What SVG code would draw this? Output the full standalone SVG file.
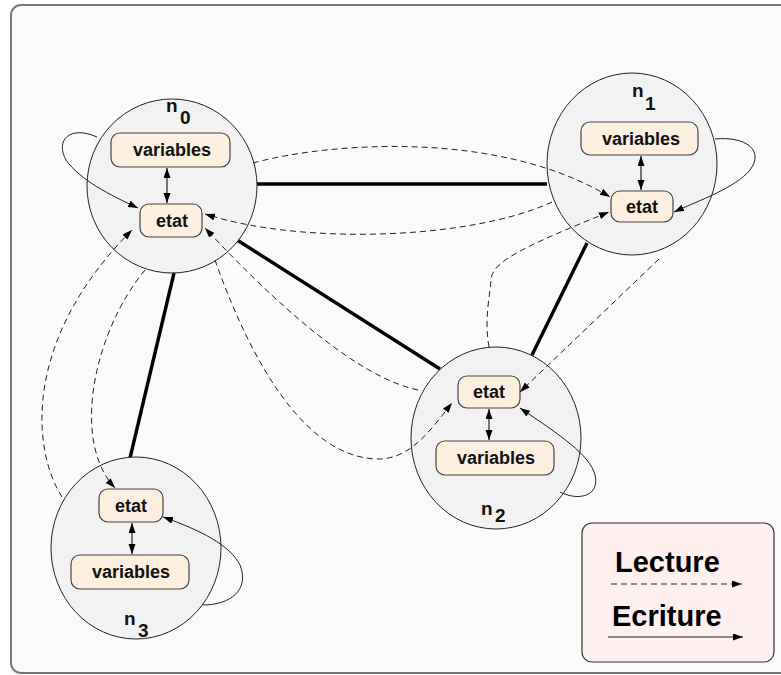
<svg xmlns="http://www.w3.org/2000/svg" width="781" height="675" viewBox="0 0 781 675">
<defs>
<marker id="ah" markerUnits="userSpaceOnUse" markerWidth="11" markerHeight="8" refX="10" refY="3.5" orient="auto-start-reverse"><path d="M0,0 L10,3.5 L0,7 z" fill="#000"/></marker>
</defs>
<style>
.node ellipse{fill:#f2f2f2;stroke:#222;stroke-width:1}
.box{fill:#fcefdf;stroke:#444;stroke-width:1.2}
.bt{font-family:"Liberation Sans",Arial,sans-serif;font-weight:bold;font-size:18px;fill:#111;text-anchor:middle}
.nl{font-family:"Liberation Sans",Arial,sans-serif;font-weight:bold;font-size:19px;fill:#111}
.thick{stroke:#000;stroke-width:3.4;fill:none}
.rd{stroke:#222;stroke-width:1;fill:none;stroke-dasharray:6,4;marker-end:url(#ah)}
.wr{stroke:#222;stroke-width:1;fill:none;marker-end:url(#ah)}
.dbl{stroke:#222;stroke-width:1.2;fill:none;marker-end:url(#ah);marker-start:url(#ah)}
.lg{font-family:"Liberation Sans",Arial,sans-serif;font-weight:bold;font-size:29px;fill:#000}
</style>
<rect x="11" y="5" width="790" height="668" rx="10" fill="#fafafa" stroke="#777" stroke-width="2"/>

<g id="edges-thick">
<line class="thick" x1="257" y1="184" x2="547" y2="184"/>
<line class="thick" x1="237" y1="240" x2="440" y2="369"/>
<line class="thick" x1="587" y1="243" x2="532" y2="355"/>
<line class="thick" x1="174" y1="273" x2="130" y2="458"/>
</g>

<g id="n0" class="node">
<ellipse cx="172" cy="186" rx="85" ry="87"/>
<text class="nl" x="166" y="112">n</text><text class="nl" x="180" y="124">0</text>
<rect class="box" x="111" y="133" width="119" height="34" rx="9"/>
<text class="bt" x="172" y="156">variables</text>
<rect class="box" x="140" y="204" width="62" height="33" rx="9"/>
<text class="bt" x="172" y="227">etat</text>
<line class="dbl" x1="167" y1="168" x2="167" y2="203"/>
</g>

<g id="n1" class="node">
<ellipse cx="632" cy="164" rx="85" ry="91"/>
<text class="nl" x="632" y="97">n</text><text class="nl" x="645" y="110">1</text>
<rect class="box" x="581" y="122" width="117" height="33" rx="9"/>
<text class="bt" x="641" y="145">variables</text>
<rect class="box" x="611" y="191" width="62" height="31" rx="9"/>
<text class="bt" x="642" y="213">etat</text>
<line class="dbl" x1="641" y1="156" x2="641" y2="190"/>
</g>

<g id="n2" class="node">
<ellipse cx="496" cy="438" rx="85" ry="91"/>
<text class="nl" x="481" y="515">n</text><text class="nl" x="495" y="522">2</text>
<rect class="box" x="458" y="376" width="62" height="32" rx="9"/>
<text class="bt" x="489" y="398">etat</text>
<rect class="box" x="436" y="441" width="118" height="34" rx="9"/>
<text class="bt" x="496" y="464">variables</text>
<line class="dbl" x1="489" y1="409" x2="489" y2="440"/>
</g>

<g id="n3" class="node">
<ellipse cx="136" cy="548" rx="85" ry="91"/>
<text class="nl" x="124" y="625">n</text><text class="nl" x="138" y="637">3</text>
<rect class="box" x="99" y="489" width="64" height="33" rx="9"/>
<text class="bt" x="131" y="512">etat</text>
<rect class="box" x="71" y="555" width="118" height="34" rx="9"/>
<text class="bt" x="131" y="578">variables</text>
<line class="dbl" x1="132" y1="523" x2="132" y2="554"/>
</g>

<g id="connectors">
<path class="rd" d="M253,163 C330,142 500,130 610,197"/>
<path class="rd" d="M552,202 C470,240 300,245 205,214"/>
<path class="rd" d="M489,347 C484,320 490,295 491,280 C492,262 520,248 609,212"/>
<path class="rd" d="M659,259 L520,392"/>
<path class="rd" d="M418,390 C370,380 300,330 205,228"/>
<path class="rd" d="M215,260 C245,345 300,460 380,459 C412,458 432,428 452,403"/>
<path class="rd" d="M62,497 C32,450 22,340 132,230"/>
<path class="rd" d="M145,270 C95,330 70,440 115,488"/>
<path class="wr" d="M97,137 C70,125 55,140 66,160 C80,180 110,195 138,208"/>
<path class="wr" d="M715,139 C745,136 765,150 750,170 C735,188 700,200 674,212"/>
<path class="wr" d="M560,492 C580,502 600,495 595,475 C590,455 560,435 520,408"/>
<path class="wr" d="M203,605 C230,605 250,590 240,565 C230,545 200,530 163,517"/>
</g>

<g id="legend">
<rect x="582" y="523" width="192" height="139" rx="10" fill="#fff0f0" stroke="#333" stroke-width="1.2"/>
<text class="lg" x="615" y="572">Lecture</text>
<line class="rd" x1="611" y1="584" x2="742" y2="584"/>
<text class="lg" x="612" y="626">Ecriture</text>
<line class="wr" x1="608" y1="637" x2="743" y2="637"/>
</g>
</svg>
